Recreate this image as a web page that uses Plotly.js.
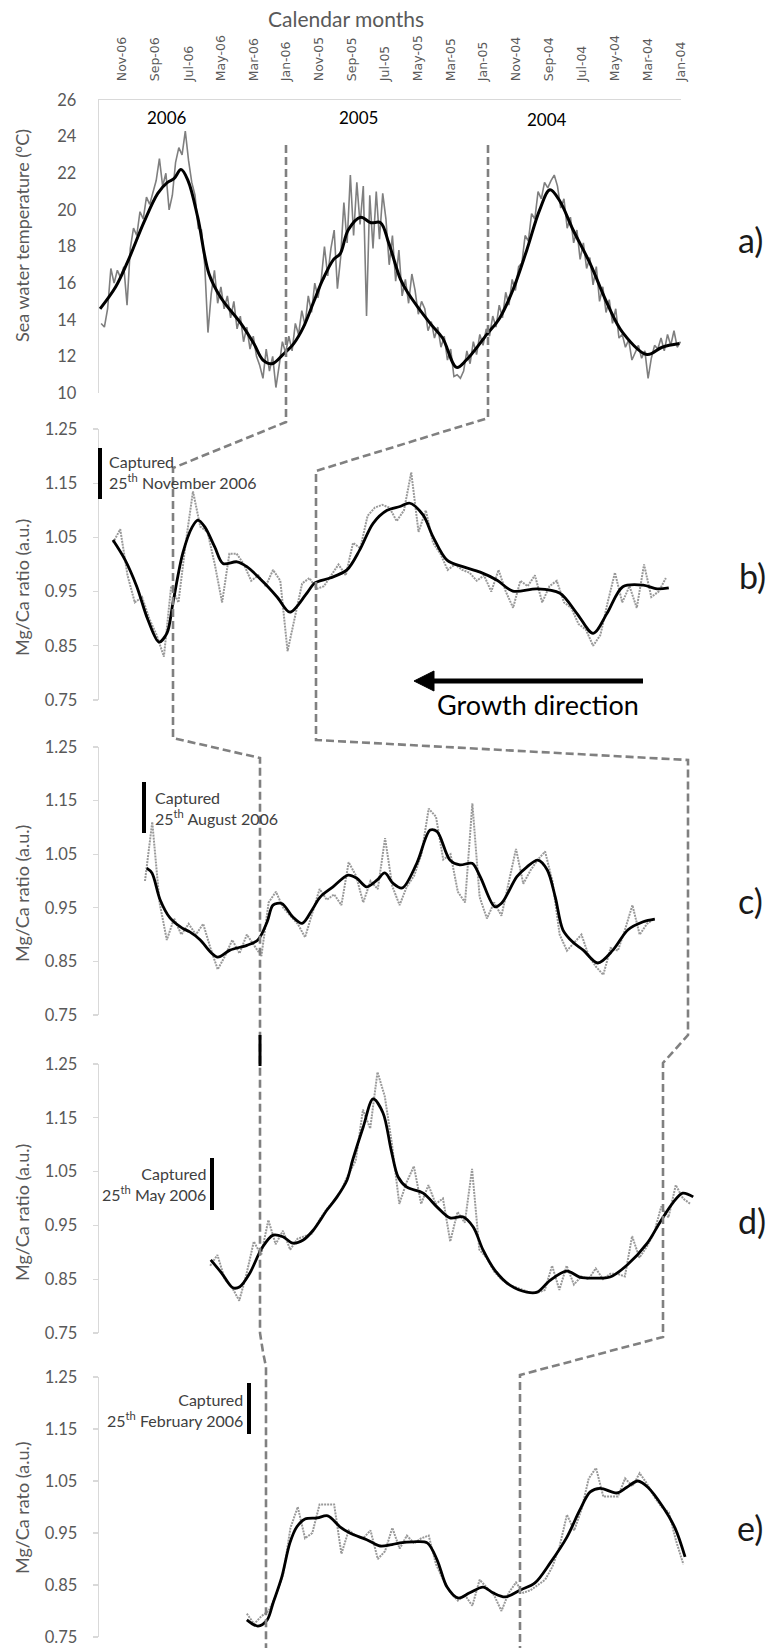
<!DOCTYPE html>
<html><head><meta charset="utf-8">
<script src="https://cdn.plot.ly/plotly-3.0.1.min.js"></script>
<style>html,body{margin:0;padding:0;background:#fff;}#chart{width:770px;height:1648px;}</style>
</head><body><div id="chart"></div>
<script>
// ---------- DATA ----------
// Panel a: sea water temperature (6-day samples from 2004-01-01)
const tempStart = '2004-01-01';
const tempStepDays = 6;
const tempRaw = [
12.8,12.5,13.4,12.6,13.2,12.3,13.0,12.4,12.6,11.9,
10.8,12.3,11.9,12.6,12.2,11.8,12.9,12.5,13.2,13.0,
14.6,13.8,15.1,14.4,15.8,15.0,16.9,15.9,17.4,16.8,
18.2,17.3,18.9,18.2,19.6,19.0,20.6,20.1,21.3,21.9,
21.6,21.2,21.5,20.6,21.0,19.5,19.8,18.3,18.6,17.1,
16.9,15.6,16.2,14.8,15.5,14.1,14.8,13.6,14.2,13.1,
13.5,12.6,13.2,12.1,12.8,11.6,12.3,11.2,10.8,11.0,
10.9,12.4,11.8,13.1,12.5,13.6,13.0,13.9,13.4,14.6,
15.0,14.3,15.6,16.5,14.9,16.2,15.3,17.8,16.1,18.6,
17.0,19.5,20.9,18.4,21.0,17.9,20.8,14.2,21.3,19.2,
21.5,18.6,21.9,18.2,20.4,17.4,15.7,18.9,17.9,16.4,
18.0,16.2,15.2,16.0,14.4,15.3,13.7,14.5,13.2,13.8,
12.3,13.1,12.2,12.8,11.5,10.3,12.0,11.2,12.4,10.8,
11.5,12.0,13.1,12.4,13.6,12.8,14.2,13.5,15.0,14.1,
15.3,14.6,15.8,14.9,16.7,15.4,13.3,17.0,18.9,19.0,
20.8,21.5,22.7,24.3,23.0,23.4,22.6,20.8,20.0,22.0,
21.3,22.8,21.6,21.0,20.3,20.7,19.5,19.9,18.6,19.0,
17.9,14.8,16.9,16.3,16.7,16.0,16.8,14.6,13.6,13.8];
const tempSmoothDates = ['2004-01-03','2004-02-04','2004-03-03','2004-04-17','2004-05-16','2004-06-17','2004-07-18','2004-08-12','2004-08-30','2004-09-18','2004-10-12','2004-11-07','2004-12-01','2004-12-25',
'2005-02-01','2005-02-19','2005-03-17','2005-04-09','2005-05-21','2005-06-03','2005-06-25','2005-07-10','2005-07-28','2005-08-16','2005-09-08','2005-09-23','2005-10-05','2005-10-25','2005-11-12','2005-11-30','2005-12-18',
'2006-01-07','2006-01-27','2006-02-13','2006-03-02','2006-03-26','2006-05-02','2006-05-24','2006-06-14','2006-07-02','2006-07-15','2006-07-28','2006-08-09','2006-08-27','2006-09-22','2006-10-20','2006-11-13','2006-12-12'];
const tempSmooth = [12.7,12.5,12.1,13.3,14.9,17.1,18.9,20.5,21.1,20.0,17.8,15.6,14.1,13.2,11.8,11.4,13.0,13.8,15.5,16.2,18.2,19.3,19.3,19.6,18.9,17.6,17.3,16.2,14.9,13.6,12.7,12.1,11.6,11.8,12.7,13.8,15.2,16.5,19.6,21.6,22.2,21.7,21.5,20.9,19.3,17.3,15.8,14.6];
const monthTickDates = ['2006-11-01','2006-09-01','2006-07-01','2006-05-01','2006-03-01','2006-01-01','2005-11-01','2005-09-01','2005-07-01','2005-05-01','2005-03-01','2005-01-01','2004-11-01','2004-09-01','2004-07-01','2004-05-01','2004-03-01','2004-01-01'];
const monthTickLabels = ['Nov-06','Sep-06','Jul-06','May-06','Mar-06','Jan-06','Nov-05','Sep-05','Jul-05','May-05','Mar-05','Jan-05','Nov-04','Sep-04','Jul-04','May-04','Mar-04','Jan-04'];
const yearLabels = ['2006','2005','2004'];

// Mg/Ca profiles (distance along shell, arbitrary units; raw samples every 1.25 units)
const mgStep = 1.25;
const bStart = 2.4;
const bRaw = [1.04,1.065,0.98,0.93,0.94,0.90,0.87,0.83,0.96,0.93,
1.04,1.135,1.07,1.06,1.00,0.93,1.02,1.02,1.00,0.97,
0.98,0.96,0.99,0.97,0.84,0.90,0.965,0.975,0.955,0.96,
0.98,1.00,0.98,1.04,1.03,1.09,1.105,1.11,1.105,1.08,
1.10,1.17,1.06,1.10,1.04,1.02,0.99,1.00,0.99,0.985,
0.97,0.98,0.95,0.99,0.95,0.92,0.97,0.96,0.98,0.93,
0.96,0.97,0.93,0.92,0.89,0.88,0.85,0.87,0.93,0.985,
0.93,0.96,0.92,1.00,0.94,0.95,0.975];
const bSmoothDist = [2.4,4.5,6.5,8.4,10.3,11.7,12.7,14.4,16.0,17.0,18.2,19.9,21.3,23.7,25.4,28.2,30.6,32.8,35.7,37.1,39.7,42.6,44.8,47.1,49.5,51.7,53.4,55.7,57.4,59.8,62.5,65.5,68.4,71.1,75.3,79.2,82.1,84.9,87.3,90.0,93.5,95.9,97.9];
const bSmooth = [1.045,1.008,0.959,0.898,0.857,0.874,0.929,1.021,1.069,1.082,1.069,1.032,1.002,1.005,0.996,0.968,0.940,0.912,0.947,0.966,0.975,0.990,1.027,1.076,1.100,1.107,1.113,1.091,1.051,1.008,0.996,0.986,0.971,0.951,0.955,0.947,0.910,0.873,0.910,0.959,0.962,0.955,0.957];

const cStart = 7.9;
const cRaw = [1.00,1.11,0.96,0.89,0.93,0.90,0.92,0.90,0.92,0.875,
0.835,0.86,0.89,0.865,0.90,0.88,0.86,0.96,0.98,0.95,
0.935,0.92,0.895,0.94,0.985,0.965,0.975,0.955,1.035,1.01,
0.96,1.00,0.985,1.08,0.99,0.955,0.99,1.01,1.05,1.135,
1.12,1.04,1.05,0.98,0.96,1.145,0.97,0.93,0.96,0.935,
1.00,1.06,0.995,1.02,1.04,1.055,1.00,0.90,0.87,0.885,
0.90,0.86,0.84,0.825,0.875,0.87,0.91,0.955,0.90,0.92,0.93];
const cSmoothDist = [8.2,9.1,10.5,12.2,14.3,15.6,17.4,19.1,20.4,22.5,25.4,27.3,28.9,29.9,31.4,33.3,34.9,36.6,38.0,40.2,42.8,44.3,46.0,47.8,49.1,50.5,52.1,54.6,56.9,58.1,60.3,62.0,64.1,65.5,68.0,69.2,71.8,73.5,75.4,77.0,78.4,79.7,81.4,83.2,85.7,88.3,90.9,93.5,95.5];
const cSmooth = [1.024,1.015,0.965,0.931,0.912,0.905,0.890,0.868,0.858,0.871,0.880,0.890,0.924,0.955,0.958,0.933,0.921,0.946,0.970,0.989,1.011,1.005,0.989,1.002,1.015,0.996,0.987,1.033,1.095,1.092,1.039,1.030,1.033,1.008,0.952,0.959,1.008,1.026,1.039,1.021,0.970,0.909,0.886,0.871,0.847,0.871,0.909,0.924,0.929];

const dStart = 19.1;
const dRaw = [0.875,0.895,0.85,0.835,0.81,0.86,0.92,0.895,0.96,0.915,
0.94,0.905,0.925,0.93,0.935,0.96,0.98,0.995,1.015,1.045,
1.07,1.165,1.13,1.235,1.19,1.10,0.99,1.03,1.06,0.99,
1.025,0.99,1.00,0.92,0.975,0.955,1.055,0.905,0.89,0.865,
0.85,0.84,0.835,0.83,0.825,0.825,0.83,0.875,0.83,0.875,
0.84,0.855,0.85,0.87,0.85,0.86,0.86,0.855,0.93,0.89,
0.91,0.935,0.985,0.965,1.025,1.00,0.99];
const dSmoothDist = [19.2,21.1,23.0,24.2,25.9,28.0,29.9,31.6,33.3,35.1,36.8,39.2,40.9,42.6,43.6,45.4,47.1,48.8,50.2,51.4,52.9,55.7,58.1,60.3,62.5,64.3,66.0,68.0,70.6,73.5,75.3,77.5,80.4,82.6,84.9,87.8,90.7,94.2,96.4,98.6,100.3,102.1];
const dSmooth = [0.886,0.861,0.834,0.836,0.861,0.908,0.932,0.929,0.917,0.923,0.941,0.979,1.003,1.034,1.072,1.133,1.185,1.159,1.090,1.040,1.021,1.010,0.984,0.964,0.966,0.947,0.904,0.867,0.839,0.826,0.826,0.848,0.865,0.854,0.852,0.854,0.876,0.917,0.956,0.992,1.010,1.003];

const eStart = 25.4;
const eRaw = [0.795,0.775,0.79,0.80,0.83,0.87,0.96,1.00,0.94,0.95,
1.005,1.005,1.005,0.91,0.955,0.945,0.94,0.955,0.90,0.915,
0.96,0.92,0.945,0.93,0.94,0.945,0.89,0.86,0.835,0.82,
0.83,0.81,0.86,0.845,0.83,0.80,0.835,0.855,0.835,0.84,
0.85,0.86,0.885,0.925,0.985,0.955,0.995,1.055,1.075,1.02,
1.02,1.02,1.055,1.04,1.065,1.045,1.02,1.00,0.99,0.935,0.89];
const eSmoothDist = [25.4,27.3,28.9,29.9,31.4,32.8,34.0,35.4,37.5,39.3,41.4,43.1,46.0,48.3,50.0,51.7,54.0,56.4,58.1,59.8,61.7,63.7,66.0,67.7,69.8,72.3,74.9,77.5,80.4,82.6,84.4,86.1,89.0,90.7,92.6,94.3,96.9,99.0,100.7];
const eSmooth = [0.783,0.771,0.783,0.815,0.865,0.931,0.962,0.977,0.979,0.983,0.962,0.950,0.937,0.925,0.927,0.931,0.933,0.931,0.898,0.846,0.825,0.835,0.846,0.835,0.827,0.840,0.854,0.892,0.942,0.994,1.029,1.036,1.027,1.038,1.050,1.038,1.000,0.959,0.904];

const mgTicks = [0.75,0.85,0.95,1.05,1.15,1.25];
const captureLabels = ['Captured<br>25<sup>th</sup> November 2006','Captured<br>25<sup>th</sup> August 2006','Captured<br>25<sup>th</sup> May 2006','Captured<br>25<sup>th</sup> February 2006'];
const panelLetters = ['a)','b)','c)','d)','e)'];

// ---------- BUILD ----------
const W = 770, H = 1648;
const px = v => v / W;
const py = v => 1 - v / H;
const FONT = 'Lato, "Open Sans", sans-serif';
const GREY_TXT = '#595959';

const t0 = Date.UTC(2004,0,1);
const tempDates = tempRaw.map((_, i) => new Date(t0 + i*tempStepDays*86400000).toISOString().slice(0,10));
const dist = (start, arr) => arr.map((_, i) => +(start + i*mgStep).toFixed(3));

const traces = [
  {x: tempDates, y: tempRaw, xaxis:'x', yaxis:'y', mode:'lines', line:{color:'#7f7f7f', width:1.6}, hoverinfo:'skip'},
  {x: tempSmoothDates, y: tempSmooth, xaxis:'x', yaxis:'y', mode:'lines', line:{color:'#000', width:3, shape:'spline', smoothing:1}},
];
const mg = [[bStart,bRaw,bSmoothDist,bSmooth],[cStart,cRaw,cSmoothDist,cSmooth],[dStart,dRaw,dSmoothDist,dSmooth],[eStart,eRaw,eSmoothDist,eSmooth]];
mg.forEach((p, k) => {
  const n = k + 2;
  traces.push({x: dist(p[0], p[1]), y: p[1], xaxis:'x'+n, yaxis:'y'+n, mode:'lines', line:{color:'#999999', width:2, dash:'2px,1px'}});
  traces.push({x: p[2], y: p[3], xaxis:'x'+n, yaxis:'y'+n, mode:'lines', line:{color:'#000', width:2.8, shape:'spline', smoothing:0.9}});
});

const layout = {
  width: W, height: H, margin:{l:0,r:0,t:0,b:0},
  paper_bgcolor:'#fff', plot_bgcolor:'rgba(0,0,0,0)', showlegend:false,
  font:{family:FONT, color:GREY_TXT},
  xaxis:{domain:[px(99),px(681)], anchor:'y', side:'top', type:'date',
    range:['2006-12-14','2003-12-31'], tickvals:monthTickDates, ticktext:monthTickLabels,
    tickangle:-90, tickfont:{family:'"DejaVu Sans", Verdana, sans-serif', size:12.5, color:GREY_TXT},
    showline:true, linecolor:'#d9d9d9', linewidth:1.3, showgrid:false, zeroline:false, ticks:'', ticklabelstandoff:15},
  yaxis:{domain:[py(393),py(100)], anchor:'x', range:[10,26], dtick:2, tick0:10,
    showline:true, linecolor:'#d9d9d9', linewidth:1.3, showgrid:false, zeroline:false, ticks:'',
    tickfont:{family:FONT, size:16.5, color:GREY_TXT}, ticklabelstandoff:18}
};
const mgDomains = [[700,429],[1015,747],[1333,1064],[1637,1377]];
mgDomains.forEach((d, k) => {
  const n = k + 2;
  layout['xaxis'+n] = {domain:[px(99),px(720)], anchor:'y'+n, range:[0,106.7], visible:false};
  layout['yaxis'+n] = {domain:[py(d[0]),py(d[1])], anchor:'x'+n, range:[0.75,1.25], tickvals:mgTicks, tickformat:'.2f',
    showline:true, linecolor:'#d9d9d9', linewidth:1.3, ticks:'outside', ticklen:5, tickcolor:'#d9d9d9', tickwidth:1.3,
    showgrid:false, zeroline:false, tickfont:{family:FONT, size:16.5, color:GREY_TXT}, ticklabelstandoff:12};
});

// connector dashed lines, bars and arrow (paper coordinates)
const pathOf = (pts, close) => pts.map((p,i) => (i ? 'L' : 'M') + px(p[0]).toFixed(5) + ',' + py(p[1]).toFixed(5)).join(' ') + (close ? ' Z' : '');
const dashLine = {color:'#808080', width:2.6, dash:'8px,4px'};
const conn1 = [[286,145],[286,422],[173,468],[173,738],[260,758],[260,1333],[263,1352],[266,1367],[266,1648]];
const conn2 = [[488,145],[488,418],[316,471],[316,740],[688,760],[688,1035],[663,1063],[663,1337],[520,1375],[520,1648]];
const shapes = [
  {type:'path', xref:'paper', yref:'paper', path:pathOf(conn1), line:dashLine},
  {type:'path', xref:'paper', yref:'paper', path:pathOf(conn2), line:dashLine},
  {type:'line', xref:'paper', yref:'paper', x0:px(260), x1:px(260), y0:py(1035), y1:py(1066), line:{color:'#000', width:3}},
  {type:'line', xref:'paper', yref:'paper', x0:px(430), x1:px(643), y0:py(681), y1:py(681), line:{color:'#000', width:5}},
  {type:'path', xref:'paper', yref:'paper', path:pathOf([[414,681],[434,671],[434,691]], true), fillcolor:'#000', line:{color:'#000', width:1}},
];
const bars = [[100,448,499],[144,782,833],[212,1158,1210],[249,1383,1434]];
bars.forEach(b => shapes.push({type:'line', xref:'paper', yref:'paper', x0:px(b[0]), x1:px(b[0]), y0:py(b[1]), y1:py(b[2]), line:{color:'#000', width:4}}));
layout.shapes = shapes;

const ann = [];
const A = (text, x, y, o) => ann.push(Object.assign({text, xref:'paper', yref:'paper', x:px(x), y:py(y), showarrow:false, xanchor:'center', yanchor:'middle'}, o||{}));
A('Calendar months', 346, 18, {font:{family:FONT, size:21, color:GREY_TXT}});
[[167,117],[358,117],[547,119]].forEach((p,i) => A(yearLabels[i], p[0], p[1], {font:{family:FONT, size:17, color:'#000'}}));
const yTitleFont = {family:FONT, size:18, color:GREY_TXT};
A('Sea water temperature (ºC)', 22, 236, {textangle:-90, font:yTitleFont});
A('Mg/Ca ratio (a.u.)', 22, 588, {textangle:-90, font:yTitleFont});
A('Mg/Ca ratio (a.u.)', 22, 894, {textangle:-90, font:yTitleFont});
A('Mg/Ca ratio (a.u.)', 22, 1213, {textangle:-90, font:yTitleFont});
A('Mg/Ca rato (a.u.)', 22, 1508, {textangle:-90, font:yTitleFont});
[[750,240],[752,575],[750,900],[752,1220],[750,1527]].forEach((p,i) => A(panelLetters[i], p[0], p[1], {font:{family:FONT, size:34, color:'#1a1a1a'}}));
const capFont = {family:FONT, size:16, color:'#404040'};
A(captureLabels[0], 107, 472, {xanchor:'left', align:'left', font:capFont});
A(captureLabels[1], 153, 808, {xanchor:'left', align:'left', font:capFont});
A(captureLabels[2], 208, 1184, {xanchor:'right', align:'right', font:capFont});
A(captureLabels[3], 245, 1410, {xanchor:'right', align:'right', font:capFont});
A('Growth direction', 538, 704, {font:{family:FONT, size:27, color:'#000'}});
layout.annotations = ann;

Plotly.newPlot('chart', traces, layout, {displayModeBar:false, staticPlot:true});
</script></body></html>
